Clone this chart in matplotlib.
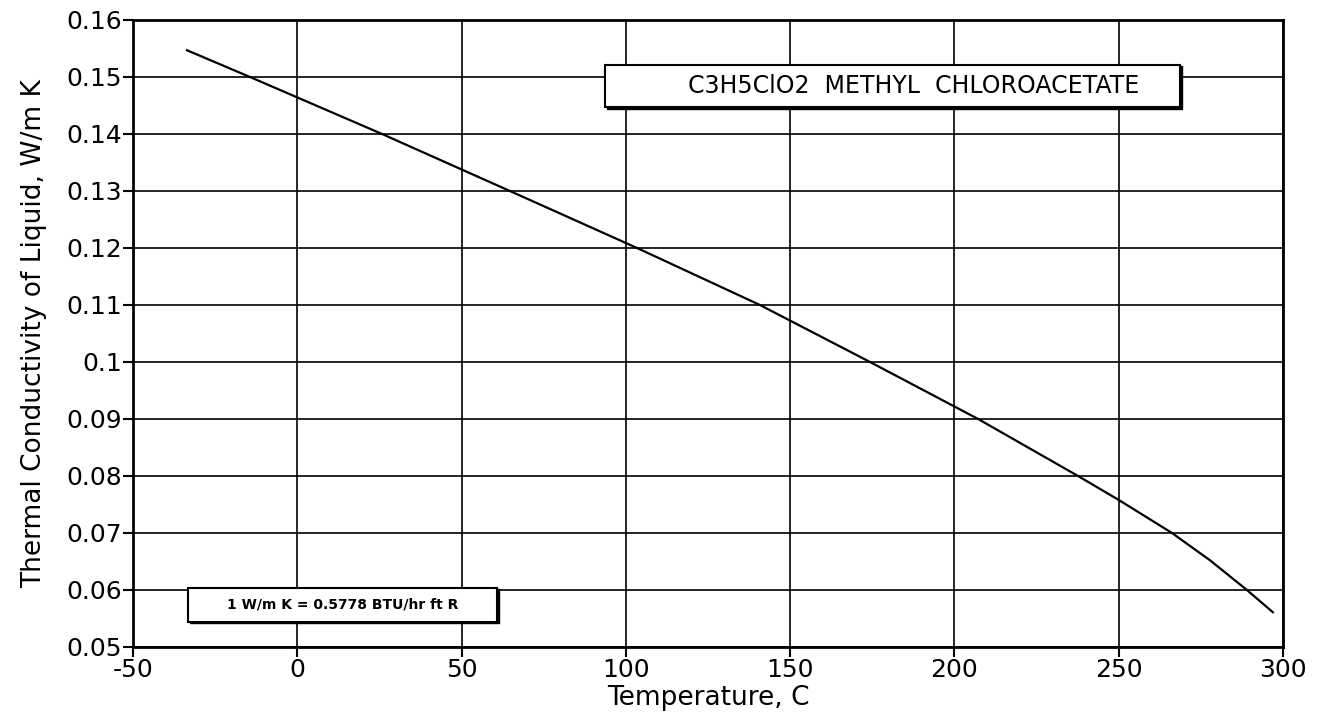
import matplotlib
matplotlib.use("Agg")
from matplotlib import pyplot as plt
from matplotlib.patches import Rectangle

# Datos
temperatura = [-33.6, -14.4, 25.8, 64.7, 103.4, 140.8, 174.3, 207.2,
               237.6, 250, 266.2, 277.8, 289, 296.9]
conductividad = [0.1547, 0.150, 0.140, 0.130, 0.120, 0.110, 0.100, 0.090,
                 0.080, 0.0758, 0.070, 0.0652, 0.060, 0.0561]

x_ticks = [-50, 0, 50, 100, 150, 200, 250, 300]
y_ticks = [0.05, 0.06, 0.07, 0.08, 0.09, 0.1, 0.11, 0.12, 0.13, 0.14, 0.15, 0.16]
y_labels = ["0.05", "0.06", "0.07", "0.08", "0.09", "0.1", "0.11", "0.12",
            "0.13", "0.14", "0.15", "0.16"]

titulo = "C3H5ClO2  METHYL  CHLOROACETATE"
nota = "1 W/m K = 0.5778 BTU/hr ft R"

plt.rcParams["font.family"] = ["DejaVu Sans"]
plt.rcParams["axes.unicode_minus"] = False

fig = plt.figure(figsize=(13.26, 7.22), dpi=100)
ax = fig.add_axes([0.1003, 0.1039, 0.8673, 0.8684])

ax.plot(temperatura, conductividad, color="black", linewidth=1.6)

ax.set_xlim(-50, 300)
ax.set_ylim(0.05, 0.16)
ax.set_xticks(x_ticks)
ax.set_yticks(y_ticks)
ax.set_yticklabels(y_labels)

# Cuadricula y ejes
ax.grid(True, color="black", linewidth=1.2)
for s in ax.spines.values():
    s.set_linewidth(2)
ax.tick_params(direction="out", length=7, width=1.5, labelsize=18, pad=1)

ax.set_xlabel("Temperature, C", fontsize=19, labelpad=2)
ax.set_ylabel("Thermal Conductivity of Liquid, W/m K", fontsize=19, labelpad=14)

# Cuadro del titulo con sombra
ax.add_patch(Rectangle((94.2, 0.14445), 175, 0.0074, facecolor="black",
                       edgecolor="black", zorder=4))
ax.add_patch(Rectangle((93.6, 0.1447), 175, 0.0074, facecolor="white",
                       edgecolor="black", linewidth=1.5, zorder=5))
ax.text(187.7, 0.1447 + 0.0037, titulo, ha="center", va="center",
        fontsize=17, zorder=6)

# Cuadro de conversion
ax.add_patch(Rectangle((-32.7, 0.05415), 94.1, 0.00596, facecolor="black",
                       edgecolor="black", zorder=4))
ax.add_patch(Rectangle((-33.3, 0.05439), 94.1, 0.00596, facecolor="white",
                       edgecolor="black", linewidth=1.5, zorder=5))
ax.text(-33.3 + 47.05, 0.05439 + 0.00298, nota, ha="center", va="center",
        fontsize=10, fontweight="bold", zorder=6)

plt.savefig("out.png", dpi=100)
